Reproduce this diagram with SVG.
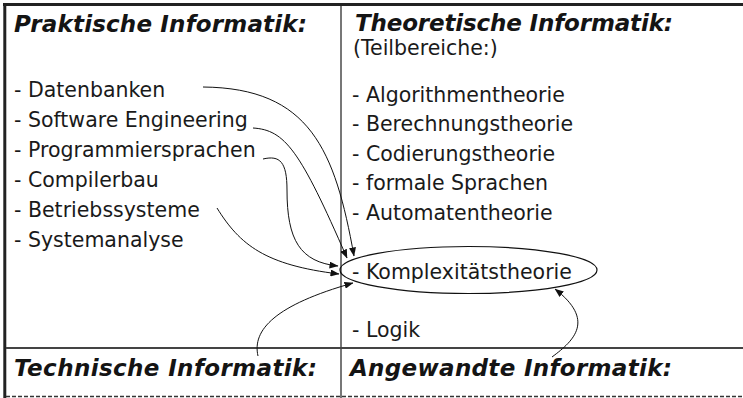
<svg xmlns="http://www.w3.org/2000/svg" width="743" height="398" viewBox="0 0 743 398">
<style>
.t{font-family:"DejaVu Sans","Liberation Sans",sans-serif;font-size:20.5px;fill:#1a1a1a}
.h{font-family:"DejaVu Sans","Liberation Sans",sans-serif;font-size:23px;font-weight:bold;font-style:italic;fill:#141414}
.c{fill:none;stroke:#111;stroke-width:1}
</style>
<defs>
<marker id="ah" markerWidth="9" markerHeight="7" refX="8.5" refY="3.5" orient="auto" markerUnits="userSpaceOnUse">
<path d="M0,0 L9,3.5 L0,7 Z" fill="#111"/>
</marker>
</defs>
<rect width="743" height="398" fill="#fff"/>
<g id="frame">
<line x1="3" y1="4.5" x2="743" y2="4.5" stroke="#222" stroke-width="3"/>
<line x1="4.8" y1="3" x2="4.8" y2="398" stroke="#222" stroke-width="3"/>
<line x1="341" y1="6" x2="341" y2="398" stroke="#555" stroke-width="1.6"/>
<line x1="6" y1="348" x2="743" y2="348" stroke="#444" stroke-width="1.8"/>
<line x1="6" y1="396.5" x2="743" y2="396.5" stroke="#333" stroke-width="1.5" stroke-dasharray="4 2"/>
</g>
<g id="praktisch">
<text class="h" x="14" y="32" textLength="293">Praktische Informatik:</text>
<text class="t" x="14" y="97">- Datenbanken</text>
<text class="t" x="14" y="127">- Software Engineering</text>
<text class="t" x="14" y="157">- Programmiersprachen</text>
<text class="t" x="14" y="187">- Compilerbau</text>
<text class="t" x="14" y="217">- Betriebssysteme</text>
<text class="t" x="14" y="247">- Systemanalyse</text>
</g>
<g id="theoretisch">
<text class="h" x="355" y="31" textLength="318">Theoretische Informatik:</text>
<text class="t" x="353" y="55">(Teilbereiche:)</text>
<text class="t" x="352" y="102">- Algorithmentheorie</text>
<text class="t" x="352" y="131">- Berechnungstheorie</text>
<text class="t" x="352" y="160.5">- Codierungstheorie</text>
<text class="t" x="352" y="190">- formale Sprachen</text>
<text class="t" x="352" y="219.5">- Automatentheorie</text>
<text class="t" x="352" y="337">- Logik</text>
</g>
<g id="komplexitaet">
<ellipse cx="468.5" cy="270" rx="128.5" ry="23.5" fill="none" stroke="#111" stroke-width="1.2"/>
<text class="t" x="352" y="279">- Komplexitätstheorie</text>
</g>
<g id="technisch">
<text class="h" x="14" y="376" textLength="303">Technische Informatik:</text>
</g>
<g id="angewandt">
<text class="h" x="350" y="376" textLength="322">Angewandte Informatik:</text>
</g>
<g id="connectors">
<path class="c" d="M203,87 C310,88 335,150 354,256" marker-end="url(#ah)"/>
<path class="c" d="M253,128 C285,130 300,150 347,258" marker-end="url(#ah)"/>
<path class="c" d="M263,159 C280,155 287,162 287,190 C287,240 300,262 338,266" marker-end="url(#ah)"/>
<path class="c" d="M217,208 C240,245 265,265 339,274" marker-end="url(#ah)"/>
<path class="c" d="M258,356 C252,330 275,305 353,283" marker-end="url(#ah)"/>
<path class="c" d="M552,357 C575,340 595,320 555,289" marker-end="url(#ah)"/>
</g>
</svg>
